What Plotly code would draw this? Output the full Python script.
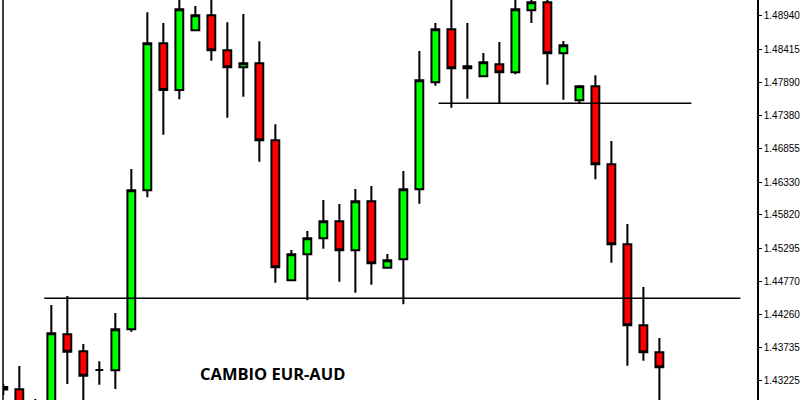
import plotly.graph_objects as go

# Candle index (one per bar)
idx = list(range(42))

opens = [1.43076, 1.43079, 1.42675, 1.42785, 1.43942, 1.43675, 1.43382, 1.43377,
         1.44021, 1.46203, 1.48511, 1.47778, 1.48716, 1.48951, 1.48401, 1.48135,
         1.48197, 1.46990, 1.44790, 1.45198, 1.45450, 1.45717, 1.45261, 1.46031,
         1.44988, 1.45120, 1.46219, 1.47899, 1.48731, 1.48119, 1.47993, 1.48182,
         1.48056, 1.49030, 1.49155, 1.48354, 1.47616, 1.47836, 1.46612, 1.45356,
         1.44084, 1.43660]
highs = [1.43162, 1.43445, 1.42927, 1.44402, 1.44544, 1.43790, 1.43518, 1.44277,
         1.46538, 1.48998, 1.48830, 1.49317, 1.49097, 1.49270, 1.48841, 1.48971,
         1.48544, 1.47240, 1.45266, 1.45564, 1.46051, 1.45988, 1.46224, 1.46271,
         1.45203, 1.46506, 1.48391, 1.48830, 1.49348, 1.48830, 1.48359, 1.48532,
         1.49270, 1.49317, 1.49285, 1.48547, 1.47857, 1.48009, 1.46977, 1.45674,
         1.44685, 1.43884]
lows = [1.42989, 1.42597, 1.42518, 1.42675, 1.43162, 1.42832, 1.43151, 1.43084,
        1.43983, 1.46093, 1.47076, 1.47632, 1.48716, 1.48238, 1.47343, 1.47673,
        1.46652, 1.44753, 1.44790, 1.44476, 1.45286, 1.44768, 1.44596, 1.44721,
        1.44988, 1.44413, 1.45993, 1.47846, 1.47500, 1.47642, 1.47993, 1.47569,
        1.48025, 1.48830, 1.47861, 1.47626, 1.47569, 1.46376, 1.45067, 1.43449,
        1.43528, 1.42754]
closes = [1.43115, 1.42754, 1.42785, 1.43958, 1.43669, 1.43292, 1.43382, 1.44021,
          1.46203, 1.48511, 1.47778, 1.49045, 1.48951, 1.48401, 1.48135, 1.48197,
          1.46990, 1.44994, 1.45198, 1.45450, 1.45717, 1.45261, 1.46031, 1.45057,
          1.45104, 1.46219, 1.47930, 1.48731, 1.48119, 1.48150, 1.48213, 1.48056,
          1.49045, 1.49155, 1.48354, 1.48480, 1.47836, 1.46612, 1.45356, 1.44084,
          1.43660, 1.43424]

tick_vals = [1.48940, 1.48415, 1.47890, 1.47380, 1.46855, 1.46330,
             1.45820, 1.45295, 1.44770, 1.44260, 1.43735, 1.43225]
tick_text = ["1.48940", "1.48415", "1.47890", "1.47380", "1.46855", "1.46330",
             "1.45820", "1.45295", "1.44770", "1.44260", "1.43735", "1.43225"]

support_level = 1.44508
support_span = [2.56, 46.06]
resistance_level = 1.47569
resistance_span = [27.2, 43.0]

title_text = "CAMBIO EUR-AUD"

fig = go.Figure()
fig.add_trace(go.Candlestick(
    x=idx, open=opens, high=highs, low=lows, close=closes,
    increasing=dict(fillcolor="#00FF00", line=dict(color="black", width=2)),
    decreasing=dict(fillcolor="#FF0000", line=dict(color="black", width=2)),
    whiskerwidth=0,
    showlegend=False,
    hoverinfo="skip",
))

fig.add_shape(type="line", xref="x", yref="y",
              x0=support_span[0], x1=support_span[1],
              y0=support_level, y1=support_level,
              line=dict(color="black", width=1.5))
fig.add_shape(type="line", xref="x", yref="y",
              x0=resistance_span[0], x1=resistance_span[1],
              y0=resistance_level, y1=resistance_level,
              line=dict(color="black", width=1.5))
# left border line
fig.add_shape(type="line", xref="paper", yref="paper",
              x0=0, x1=0, y0=0, y1=1,
              line=dict(color="black", width=1.5))

fig.add_annotation(text="<b>" + title_text + "</b>", xref="paper", yref="paper",
                   x=0.3568, y=0.0675, showarrow=False,
                   font=dict(family="Open Sans", size=16.5, color="black"),
                   xanchor="center", yanchor="middle")

fig.update_layout(
    width=800, height=400,
    margin=dict(l=3, r=43, t=0, b=0),
    paper_bgcolor="white", plot_bgcolor="white",
    boxgap=0.3,
    xaxis=dict(range=[-0.02, 47.1], showgrid=False, zeroline=False,
               showticklabels=False, ticks="", rangeslider=dict(visible=False),
               showline=False),
    yaxis=dict(range=[1.42911, 1.49191], side="right", showgrid=False,
               zeroline=False, showline=True, linecolor="black", linewidth=1.5,
               ticks="outside", ticklen=3, tickcolor="black", tickwidth=1,
               tickvals=tick_vals, ticktext=tick_text,
               tickfont=dict(family="Liberation Sans", size=10, color="black")),
)

fig.write_html("out.html",
               config={"displayModeBar": False},
               post_script="document.body.style.margin='0';document.body.style.overflow='hidden';")
